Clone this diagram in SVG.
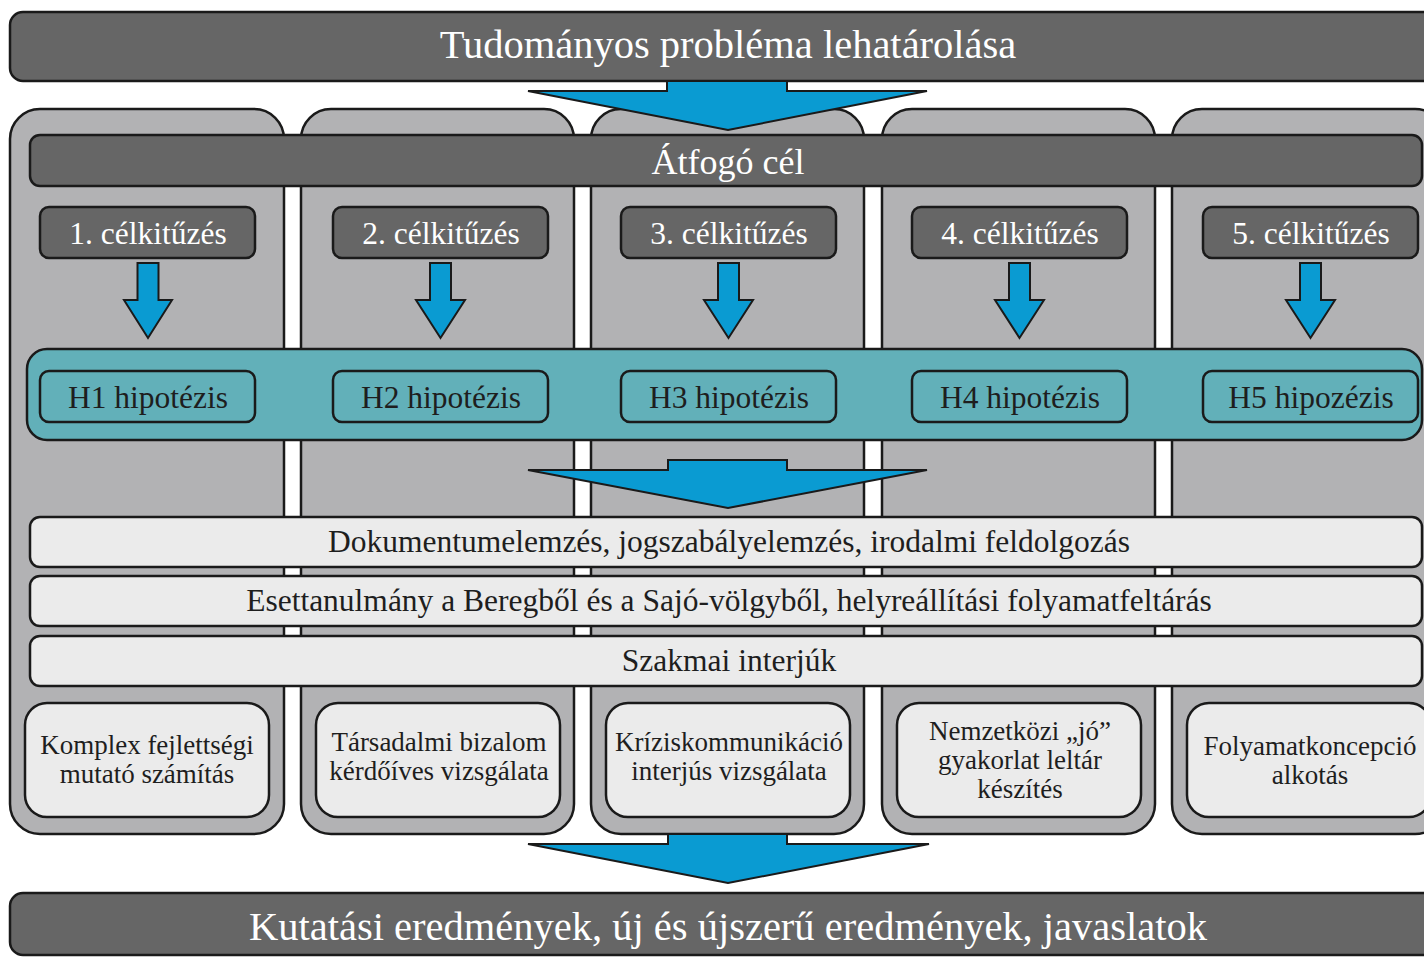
<svg xmlns="http://www.w3.org/2000/svg" width="1424" height="957" viewBox="0 0 1424 957">
<style>
.dark{fill:#666666;stroke:#1a1a1a;stroke-width:2.5}
.col{fill:#b2b2b4;stroke:#1a1a1a;stroke-width:2.5}
.teal{fill:#62b0b9;stroke:#1a1a1a;stroke-width:2.5}
.light{fill:#ebebeb;stroke:#1a1a1a;stroke-width:2.5}
.arrow{fill:#0a9bd2;stroke:#1a1a1a;stroke-width:2;stroke-linejoin:miter}
text{font-family:"Liberation Serif","Times New Roman",serif;text-anchor:middle}
.wt{fill:#ffffff}
.bt{fill:#1e1e1e}
</style>
<rect width="1424" height="957" fill="#ffffff"/>
<g id="columns">
<rect class="col" x="10" y="109" width="274" height="725" rx="30"/>
<rect class="col" x="301" y="109" width="273" height="725" rx="30"/>
<rect class="col" x="591" y="109" width="273" height="725" rx="30"/>
<rect class="col" x="882" y="109" width="273" height="725" rx="30"/>
<rect class="col" x="1172" y="109" width="273" height="725" rx="30"/>
</g>
<g id="top-bar">
<rect class="dark" x="10" y="12" width="1440" height="69" rx="13"/>
<text class="wt" x="728" y="58" font-size="40.5">Tudományos probléma lehatárolása</text>
</g>
<g id="atfogo-cel">
<rect class="dark" x="30" y="135" width="1392" height="51" rx="10"/>
<text class="wt" x="728" y="174" font-size="36">Átfogó cél</text>
</g>
<g id="celkituzes-1">
<rect class="dark" x="40" y="207" width="215" height="51" rx="9"/>
<text class="wt" x="148" y="244" font-size="31.5">1. célkitűzés</text>
</g>
<g id="celkituzes-2">
<rect class="dark" x="333" y="207" width="215" height="51" rx="9"/>
<text class="wt" x="441" y="244" font-size="31.5">2. célkitűzés</text>
</g>
<g id="celkituzes-3">
<rect class="dark" x="621" y="207" width="215" height="51" rx="9"/>
<text class="wt" x="729" y="244" font-size="31.5">3. célkitűzés</text>
</g>
<g id="celkituzes-4">
<rect class="dark" x="912" y="207" width="215" height="51" rx="9"/>
<text class="wt" x="1020" y="244" font-size="31.5">4. célkitűzés</text>
</g>
<g id="celkituzes-5">
<rect class="dark" x="1203" y="207" width="215" height="51" rx="9"/>
<text class="wt" x="1311" y="244" font-size="31.5">5. célkitűzés</text>
</g>
<g id="hypothesis-band">
<rect class="teal" x="27" y="349" width="1395" height="91" rx="20"/>
</g>
<g id="h1">
<rect class="teal" x="40" y="371" width="215" height="51" rx="9"/>
<text class="bt" x="148" y="408" font-size="31.5">H1 hipotézis</text>
</g>
<g id="h2">
<rect class="teal" x="333" y="371" width="215" height="51" rx="9"/>
<text class="bt" x="441" y="408" font-size="31.5">H2 hipotézis</text>
</g>
<g id="h3">
<rect class="teal" x="621" y="371" width="215" height="51" rx="9"/>
<text class="bt" x="729" y="408" font-size="31.5">H3 hipotézis</text>
</g>
<g id="h4">
<rect class="teal" x="912" y="371" width="215" height="51" rx="9"/>
<text class="bt" x="1020" y="408" font-size="31.5">H4 hipotézis</text>
</g>
<g id="h5">
<rect class="teal" x="1203" y="371" width="215" height="51" rx="9"/>
<text class="bt" x="1311" y="408" font-size="31.5">H5 hipozézis</text>
</g>
<g id="method-1">
<rect class="light" x="30" y="517" width="1392" height="50" rx="10"/>
<text class="bt" x="729" y="552" font-size="31.5">Dokumentumelemzés, jogszabályelemzés, irodalmi feldolgozás</text>
</g>
<g id="method-2">
<rect class="light" x="30" y="576" width="1392" height="50" rx="10"/>
<text class="bt" x="729" y="611" font-size="31.5">Esettanulmány a Beregből és a Sajó-völgyből, helyreállítási folyamatfeltárás</text>
</g>
<g id="method-3">
<rect class="light" x="30" y="636" width="1392" height="50" rx="10"/>
<text class="bt" x="729" y="671" font-size="31.5">Szakmai interjúk</text>
</g>
<g id="result-1">
<rect class="light" x="25" y="703" width="244" height="114" rx="22"/>
<text class="bt" x="147" y="754" font-size="27">Komplex fejlettségi</text>
<text class="bt" x="147" y="783" font-size="27">mutató számítás</text>
</g>
<g id="result-2">
<rect class="light" x="316" y="703" width="244" height="114" rx="22"/>
<text class="bt" x="439" y="751" font-size="27">Társadalmi bizalom</text>
<text class="bt" x="439" y="780" font-size="27">kérdőíves vizsgálata</text>
</g>
<g id="result-3">
<rect class="light" x="606" y="703" width="244" height="114" rx="22"/>
<text class="bt" x="729" y="751" font-size="27">Kríziskommunikáció</text>
<text class="bt" x="729" y="780" font-size="27">interjús vizsgálata</text>
</g>
<g id="result-4">
<rect class="light" x="897" y="703" width="244" height="114" rx="22"/>
<text class="bt" x="1020" y="740" font-size="27">Nemzetközi „jó”</text>
<text class="bt" x="1020" y="769" font-size="27">gyakorlat leltár</text>
<text class="bt" x="1020" y="798" font-size="27">készítés</text>
</g>
<g id="result-5">
<rect class="light" x="1187" y="703" width="244" height="114" rx="22"/>
<text class="bt" x="1310" y="755" font-size="27">Folyamatkoncepció</text>
<text class="bt" x="1310" y="784" font-size="27">alkotás</text>
</g>
<g id="bottom-bar">
<rect class="dark" x="10" y="893" width="1440" height="62" rx="13"/>
<text class="wt" x="728" y="940" font-size="40.5">Kutatási eredmények, új és újszerű eredmények, javaslatok</text>
</g>
<g id="connectors">
<polygon class="arrow" points="667,81 787,81 787,91 927,91 728,130 528,91 667,91"/>
<polygon class="arrow" points="668,460 787,460 787,470 927,470 728,508 528,470 668,470"/>
<polygon class="arrow" points="668,834 787,834 787,844 929,844 728,883 528,844 668,844"/>
<polygon class="arrow" points="137.5,263 158.5,263 158.5,300 172,300 148,338 124,300 137.5,300"/>
<polygon class="arrow" points="430,263 451,263 451,300 465,300 440.5,338 416,300 430,300"/>
<polygon class="arrow" points="718,263 739,263 739,300 753,300 728.5,338 704,300 718,300"/>
<polygon class="arrow" points="1009,263 1030,263 1030,300 1044,300 1019.5,338 995,300 1009,300"/>
<polygon class="arrow" points="1300,263 1321,263 1321,300 1335,300 1310.5,338 1286,300 1300,300"/>
</g>
</svg>
